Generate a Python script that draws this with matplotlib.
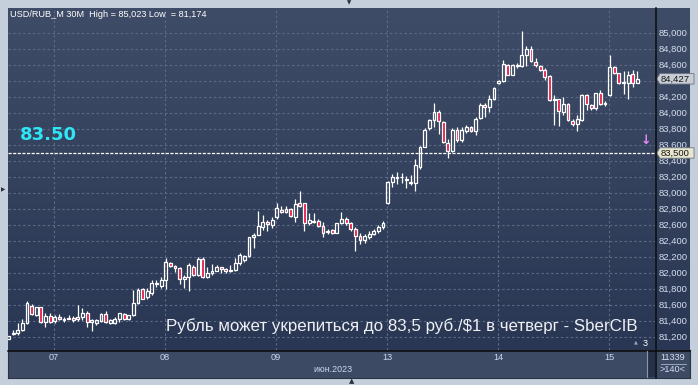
import numpy as np
import matplotlib
matplotlib.use("Agg")
import matplotlib.pyplot as plt
from matplotlib.patches import Rectangle, Polygon
from matplotlib.colors import LinearSegmentedColormap
import matplotlib.transforms as mtransforms

plt.rcParams['font.family'] = ['Liberation Sans', 'DejaVu Sans']

# ---------------- data ----------------
title_text = "USD/RUB_M 30M  High = 85,023 Low  = 81,174"
caption = "Рубль может укрепиться до 83,5 руб./$1 в четверг - SberCIB"
day_labels = ["07", "08", "09", "13", "14", "15"]
month_label = "июн.2023"
bars_before_first_day = 10
bars_per_day = 24
level_value = 83.5
level_text = "83.50"
last_price = 84.427
last_price_label = "84,427"
level_label = "83,500"
ytick_values = [81.2, 81.4, 81.6, 81.8, 82.0, 82.2, 82.4, 82.6, 82.8, 83.0,
                83.2, 83.4, 83.6, 83.8, 84.0, 84.2, 84.4, 84.6, 84.8, 85.0]

opens = [
    81.18, 81.235, 81.25, 81.29, 81.37, 81.59, 81.475, 81.57, 81.39, 81.46,
    # 07
    81.40, 81.445, 81.41, 81.43, 81.44, 81.42, 81.45, 81.50, 81.39, 81.37, 81.40, 81.49,
    81.38, 81.38, 81.42, 81.49, 81.42, 81.475, 81.62, 81.80, 81.70, 81.75, 81.88, 81.84,
    # 08
    81.91, 82.13, 82.09, 82.06, 81.93, 81.95, 82.08, 81.98, 82.175, 81.955, 81.995, 82.025,
    82.07, 82.05, 82.02, 82.04, 82.12, 82.16, 82.21, 82.445, 82.475, 82.57, 82.64, 82.60,
    # 09
    82.695, 82.79, 82.76, 82.795, 82.705, 82.87, 82.87, 82.62, 82.655, 82.655, 82.59, 82.51,
    82.535, 82.505, 82.62, 82.68, 82.62, 82.55, 82.46, 82.41, 82.45, 82.49, 82.52, 82.57,
    # 13
    82.88, 83.133, 83.19, 83.20, 83.17, 83.14, 83.12, 83.32, 83.58, 83.81, 83.91, 84.01,
    83.89, 83.63, 83.53, 83.79, 83.66, 83.77, 83.82, 83.775, 83.94, 84.10, 84.07, 84.18,
    # 14
    84.37, 84.40, 84.60, 84.48, 84.59, 84.59, 84.72, 84.80, 84.64, 84.59, 84.54, 84.46,
    84.16, 84.17, 84.01, 84.11, 83.905, 83.86, 83.91, 84.225, 84.10, 84.06, 84.245, 84.11,
    # 15
    84.225, 84.57, 84.495, 84.38, 84.37, 84.487, 84.38,
]
highs = [
    81.215, 81.29, 81.37, 81.43, 81.65, 81.61, 81.58, 81.58, 81.50, 81.50,
    81.475, 81.49, 81.45, 81.47, 81.46, 81.60, 81.56, 81.52, 81.43, 81.42, 81.50, 81.52,
    81.42, 81.45, 81.50, 81.50, 81.48, 81.79, 81.81, 81.81, 81.81, 81.91, 81.91, 81.955,
    82.19, 82.14, 82.10, 82.07, 81.975, 82.12, 82.10, 82.20, 82.20, 82.08, 82.11, 82.10,
    82.08, 82.06, 82.10, 82.19, 82.25, 82.22, 82.455, 82.495, 82.77, 82.725, 82.66, 82.695,
    82.87, 82.84, 82.84, 82.81, 82.92, 83.02, 82.88, 82.745, 82.745, 82.67, 82.64, 82.545,
    82.55, 82.63, 82.765, 82.70, 82.64, 82.57, 82.50, 82.49, 82.52, 82.55, 82.60, 82.65,
    83.155, 83.237, 83.26, 83.245, 83.21, 83.225, 83.43, 83.59, 83.81, 83.93, 84.13, 84.04,
    83.90, 83.68, 83.81, 83.83, 83.83, 83.85, 83.84, 83.955, 84.12, 84.13, 84.225, 84.33,
    84.41, 84.66, 84.61, 84.61, 84.62, 85.023, 84.84, 84.84, 84.69, 84.60, 84.56, 84.475,
    84.22, 84.18, 84.20, 84.12, 83.92, 83.975, 84.24, 84.24, 84.11, 84.255, 84.29, 84.15,
    84.725, 84.59, 84.50, 84.52, 84.53, 84.54, 84.53,
]
lows = [
    81.174, 81.225, 81.225, 81.28, 81.36, 81.475, 81.46, 81.38, 81.33, 81.38,
    81.38, 81.41, 81.39, 81.42, 81.39, 81.40, 81.41, 81.33, 81.27, 81.35, 81.39, 81.38,
    81.36, 81.36, 81.39, 81.41, 81.41, 81.46, 81.61, 81.67, 81.68, 81.725, 81.83, 81.81,
    81.80, 82.08, 82.01, 81.86, 81.815, 81.775, 81.965, 81.965, 81.94, 81.94, 81.98, 82.02,
    82.00, 82.00, 82.01, 82.02, 82.10, 82.14, 82.195, 82.31, 82.47, 82.54, 82.52, 82.56,
    82.68, 82.745, 82.745, 82.70, 82.64, 82.83, 82.53, 82.60, 82.63, 82.58, 82.445, 82.49,
    82.49, 82.495, 82.61, 82.60, 82.52, 82.27, 82.36, 82.38, 82.42, 82.47, 82.50, 82.55,
    82.86, 83.08, 83.11, 83.12, 83.06, 83.10, 83.02, 83.296, 83.57, 83.79, 83.83, 83.74,
    83.63, 83.44, 83.51, 83.64, 83.64, 83.75, 83.76, 83.725, 83.925, 83.955, 84.01, 84.16,
    84.36, 84.39, 84.47, 84.47, 84.56, 84.58, 84.59, 84.64, 84.58, 84.52, 84.41, 84.155,
    83.85, 83.84, 83.975, 83.905, 83.84, 83.77, 83.905, 84.04, 84.04, 84.04, 84.10, 84.09,
    84.21, 84.49, 84.36, 84.24, 84.18, 84.33, 84.37,
]
closes = [
    81.21, 81.25, 81.29, 81.37, 81.62, 81.49, 81.57, 81.39, 81.46, 81.39,
    81.445, 81.42, 81.43, 81.44, 81.41, 81.455, 81.50, 81.39, 81.41, 81.41, 81.49, 81.39,
    81.41, 81.42, 81.495, 81.42, 81.475, 81.62, 81.79, 81.68, 81.77, 81.88, 81.86, 81.91,
    82.14, 82.09, 82.06, 81.925, 81.95, 82.10, 81.98, 82.175, 81.955, 81.995, 82.025, 82.08,
    82.05, 82.025, 82.04, 82.12, 82.22, 82.21, 82.445, 82.475, 82.585, 82.64, 82.61, 82.66,
    82.81, 82.76, 82.795, 82.71, 82.86, 82.84, 82.62, 82.66, 82.64, 82.59, 82.505, 82.53,
    82.505, 82.62, 82.68, 82.62, 82.55, 82.46, 82.41, 82.46, 82.49, 82.52, 82.57, 82.62,
    83.133, 83.195, 83.20, 83.195, 83.16, 83.12, 83.35, 83.57, 83.79, 83.91, 84.01, 83.90,
    83.64, 83.52, 83.79, 83.66, 83.79, 83.83, 83.775, 83.93, 84.10, 84.075, 84.18, 84.31,
    84.40, 84.61, 84.48, 84.60, 84.595, 84.725, 84.80, 84.65, 84.60, 84.54, 84.45, 84.16,
    84.17, 84.02, 84.11, 83.91, 83.86, 83.92, 84.225, 84.11, 84.06, 84.245, 84.11, 84.12,
    84.58, 84.495, 84.38, 84.385, 84.475, 84.38, 84.427,
]

# ---------------- figure ----------------
W, H = 698, 385
fig = plt.figure(figsize=(W / 100, H / 100), dpi=100, facecolor='#c4cfdb')


def fax(l, t, r, b, **kw):
    return fig.add_axes([l / W, 1 - b / H, (r - l) / W, (b - t) / H], **kw)


grad_cmap = LinearSegmentedColormap.from_list('g', ['#3f4c67', '#2a3754'])
grad = np.linspace(0, 1, 256).reshape(-1, 1)

# right price panel background
rax = fax(655, 8, 690, 350)
rax.imshow(grad, aspect='auto', cmap=grad_cmap, extent=[0, 1, 0, 1])
rax.set_axis_off()

# bottom date panel
dax = fax(8, 350, 690, 378)
dax.set_facecolor('#3d4a64')
dax.set_xticks([]); dax.set_yticks([])
for s in dax.spines.values():
    s.set_color('#2a3448')

# main chart
ax = fax(8, 8, 655, 350)
n = len(closes)
xmin, xmax = -0.1, 139.8
ymin, ymax = 81.0375, 85.3125
ax.imshow(grad, aspect='auto', cmap=grad_cmap, extent=[xmin, xmax, ymin, ymax],
          origin='upper', zorder=0)
ax.set_xlim(xmin, xmax)
ax.set_ylim(ymin, ymax)
ax.set_xticks([]); ax.set_yticks([])
for s in ax.spines.values():
    s.set_visible(False)

grid_c = '#5c6a86'
for v in ytick_values:
    ax.axhline(v, color=grid_c, lw=0.8, ls=(0, (2.2, 2.2)), zorder=1)
day_starts = [bars_before_first_day + k * bars_per_day for k in range(len(day_labels))]
for d in day_starts:
    ax.axvline(d - 0.15, color=grid_c, lw=0.8, ls=(0, (2.2, 2.2)), zorder=1)

# candles
bw = 0.62
lw = 0.9
red = '#e3163f'
for i in range(n):
    o, h, l, c = opens[i], highs[i], lows[i], closes[i]
    top, bot = max(o, c), min(o, c)
    ax.plot([i, i], [top, h], color='white', lw=lw, zorder=3, solid_capstyle='butt')
    ax.plot([i, i], [l, bot], color='white', lw=lw, zorder=3, solid_capstyle='butt')
    fc = red if c < o else 'none'
    ax.add_patch(Rectangle((i - bw / 2, bot), bw, max(top - bot, 0.0005),
                           facecolor=fc, edgecolor='white', lw=lw, zorder=4))

# 83.5 level line
ax.axhline(level_value, color='white', lw=0.9, ls=(0, (2.5, 1.2)), zorder=5)

# right axis labels (the one hidden behind the last-price box is not shown)
bt = mtransforms.blended_transform_factory(ax.transAxes, ax.transData)
for v in ytick_values:
    if abs(v - last_price) < 0.06 or abs(v - level_value) < 0.06:
        continue
    lab = f"{v:.3f}".replace('.', ',')
    ax.text(1.006, v, lab, transform=bt, ha='left', va='center', fontsize=6.8,
            color='#d6deee', clip_on=False, zorder=6)

# price boxes on the axis
def price_box(v, text, fc):
    h = 0.065
    x0 = 1.0028
    xs = 1.0075
    x1 = 1.0603
    poly = Polygon([[x0, v], [xs, v + h], [x1, v + h], [x1, v - h], [xs, v - h]],
                   closed=True, transform=bt, facecolor=fc, edgecolor='#6d7480',
                   lw=0.6, clip_on=False, zorder=7)
    ax.add_patch(poly)
    ax.text(1.009, v, text, transform=bt, ha='left', va='center', fontsize=6.8,
            color='#151515', clip_on=False, zorder=8)

price_box(last_price, last_price_label, '#c9ced6')
price_box(level_value, level_label, '#e8e6cf')

# date labels
bx = mtransforms.blended_transform_factory(ax.transData, ax.transAxes)
for d, lab in zip(day_starts, day_labels):
    ax.text(d - 0.15, -0.021, lab, transform=bx, ha='center', va='center',
            fontsize=6.6, color='#cdd8ee', clip_on=False, zorder=6)

# overlay in pixel coordinates for decorations
ov = fig.add_axes([0, 0, 1, 1], facecolor='none', zorder=10)
ov.set_xlim(0, W); ov.set_ylim(H, 0)
ov.set_axis_off()
ov.plot([655.5, 655.5], [8, 378], color='#0c0c0c', lw=1.1)
ov.plot([8, 690], [350.5, 350.5], color='#0c0c0c', lw=1.1)
ov.plot([646.5, 646.5], [351, 377], color='#8a94a8', lw=0.8)
ov.add_patch(Rectangle((647, 351), 8, 26, facecolor='#26304a', edgecolor='none'))

ov.text(10, 14.5, title_text, fontsize=6.6, color='white', ha='left', va='center')
ov.text(20, 135, level_text, fontsize=13, color='#2ee6f6', ha='left', va='center',
        fontweight='bold', family=['DejaVu Sans'])
ov.text(638, 326, caption, fontsize=12.2, color='#eef0f4', ha='right', va='center')
ov.text(646, 141, "↓", fontsize=9, color='#e58cf5', ha='center', va='center',
        fontweight='bold', family=['DejaVu Sans'])
ov.text(645, 344, "3", fontsize=6.5, color='white', ha='center', va='center')
ov.text(636, 342, "▲", fontsize=3.5, color='#9aa6ba', ha='center', va='center',
        family=['DejaVu Sans'])
ov.text(333, 369.5, month_label, fontsize=6.4, color='#cdd8ee', ha='center', va='center')
ov.text(673, 357, "11339", fontsize=6.6, color='#d6deee', ha='center', va='center')
ov.plot([661, 686], [363.5, 363.5], color='#aab4c8', lw=0.6)
ov.text(673, 370, ">140<", fontsize=6.6, color='#d6deee', ha='center', va='center')
ov.text(3.5, 190, "▶", fontsize=4, color='#2a2f3a', ha='center', va='center',
        family=['DejaVu Sans'])
ov.text(349, 3, "▼", fontsize=4, color='#2a2f3a', ha='center', va='center',
        family=['DejaVu Sans'])
ov.text(352, 381, "▲", fontsize=5, color='#2a2f3a', ha='center', va='center',
        family=['DejaVu Sans'])

fig.savefig('out.png', dpi=100, facecolor=fig.get_facecolor())
